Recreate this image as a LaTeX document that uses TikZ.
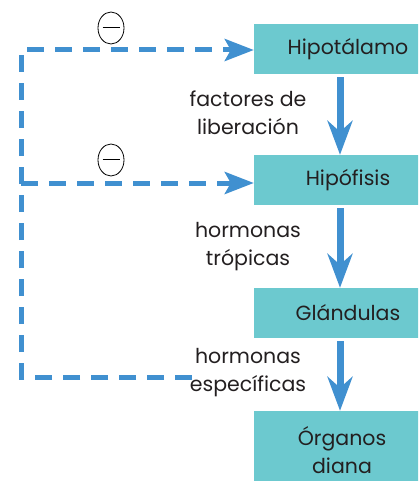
\documentclass[tikz,border=0pt]{standalone}
\usepackage{fontspec}
\setmainfont{Poppins}
\usetikzlibrary{arrows.meta,shapes.geometric}
\definecolor{boxteal}{HTML}{6CC9CF}
\definecolor{flowblue}{HTML}{4090D0}
\definecolor{txt}{HTML}{231F20}
\begin{document}
\begin{tikzpicture}[x=1pt,y=-1pt,
  box/.style={fill=boxteal, draw=none, minimum height=50pt, inner sep=0pt, text=txt, font=\fontsize{20.5}{28}\selectfont, align=center},
  lbl/.style={text=txt, font=\fontsize{20.5}{28}\selectfont, align=center, inner sep=0pt},
  flow/.style={draw=flowblue, line width=7pt, -{Stealth[length=34pt,width=25pt,inset=11pt]}},
  fb/.style={draw=flowblue, line width=5pt, dash pattern=on 17pt off 11pt, line join=miter,
     -{Stealth[length=29pt,width=22pt,inset=6pt]}},
  inh/.style={ellipse, draw=black, line width=0.8pt, minimum width=26pt, minimum height=32pt, inner sep=0pt, fill=white}
]
\useasboundingbox (0,0) rectangle (418,481);
\clip (0,0) rectangle (418,481);

\node[box, minimum width=188pt] (hipo) at (348,49) {Hipotálamo};
\node[box, minimum width=188pt] (hipof) at (348,180) {Hipófisis};
\node[box, minimum width=188pt] (glan) at (348,313) {Glándulas};
\node[box, minimum width=176pt, minimum height=78pt] (org) at (342,450) {Órganos\\diana};

\draw[flow] ([xshift=-8pt,yshift=-3pt]hipo.south) -- ([xshift=-8pt]hipof.north);
\draw[flow] ([xshift=-8pt,yshift=-3pt]hipof.south) -- ([xshift=-8pt]glan.north);
\draw[flow] ([xshift=-8pt,yshift=-3pt]glan.south) -- ([xshift=-8pt]glan.south |- org.north);

\node[lbl] (l1) at (248,113) {factores de\\liberación};
\node[lbl] (l2) at (248,247) {hormonas\\trópicas};
\node[lbl] (l3) at (248,373) {hormonas\\específicas};

\coordinate (c1) at (21,377);
\coordinate (c2) at (192,377);
\coordinate (c3) at (21,50);
\coordinate (c4) at (21,183);
\draw[fb] (c2) -- (c1) -- (c3) -- (hipo.west |- c3);
\draw[fb] (c4) -- (hipof.west |- c4);

\node[inh] (m1) at (111,28) {\rule{17pt}{1pt}};
\node[inh] (m2) at (111,160) {\rule{17pt}{1pt}};
\end{tikzpicture}
\end{document}
